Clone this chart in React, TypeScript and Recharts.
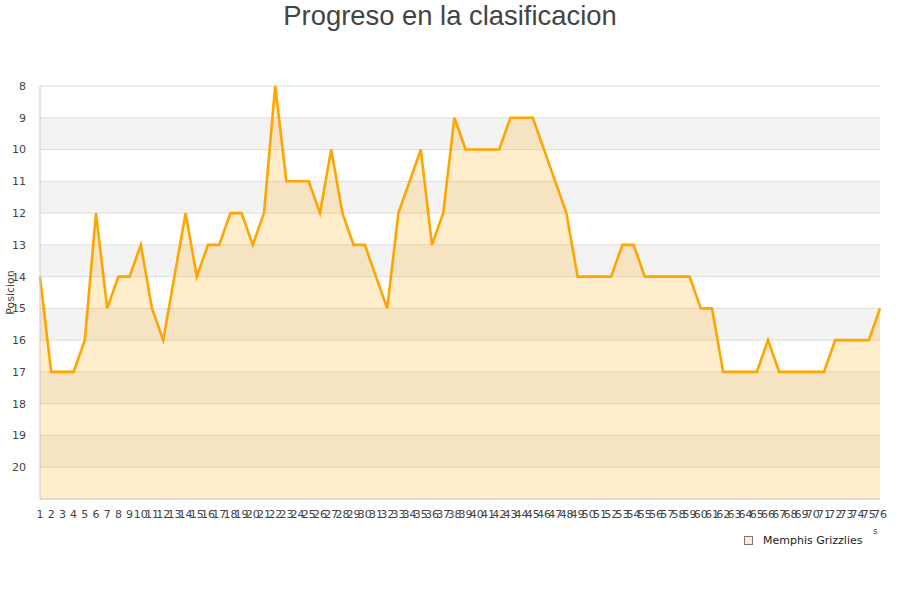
import { AreaChart, Area, XAxis, YAxis, CartesianGrid } from 'recharts'

// jornadas 1..76
const jornadas = Array.from({ length: 76 }, (_, i) => String(i + 1))

// posicion en la clasificacion por jornada
const posiciones = [
  14, 17, 17, 17, 16, 12, 15, 14, 14, 13,
  15, 16, 14, 12, 14, 13, 13, 12, 12, 13,
  12, 8, 11, 11, 11, 12, 10, 12, 13, 13,
  14, 15, 12, 11, 10, 13, 12, 9, 10, 10,
  10, 10, 9, 9, 9, 10, 11, 12, 14, 14,
  14, 14, 13, 13, 14, 14, 14, 14, 14, 15,
  15, 17, 17, 17, 17, 16, 17, 17, 17, 17,
  17, 16, 16, 16, 16, 15,
]

const yTicks = [8, 9, 10, 11, 12, 13, 14, 15, 16, 17, 18, 19, 20, 21]

const seriesName = 'Memphis Grizzlies'
const title = 'Progreso en la clasificacion'

const data = jornadas.map((j, i) => ({ jornada: j, pos: posiciones[i] }))

const tickStyle = { fill: '#444', fontSize: 11, fontFamily: 'DejaVu Sans' }

export default function App() {
  return (
    <div style={{ position: 'absolute', left: 0, top: 0, width: 900, height: 600, background: '#fff' }}>
      <div
        style={{
          position: 'absolute',
          top: 2,
          left: 0,
          width: 900,
          textAlign: 'center',
          fontFamily: 'Liberation Sans, Arial, sans-serif',
          fontSize: 27.4,
          lineHeight: 1,
          color: '#444',
        }}
      >
        {title}
      </div>
      <AreaChart
        width={900}
        height={600}
        data={data}
        margin={{ top: 86, right: 20, left: 0, bottom: 71 }}
      >
        <CartesianGrid
          vertical={false}
          stroke="#dddddd"
          horizontalFill={['#ffffff', '#f3f3f3']}
          fillOpacity={1}
        />
        <XAxis
          dataKey="jornada"
          interval={0}
          tickLine={false}
          axisLine={{ stroke: '#cccccc' }}
          tick={tickStyle}
          tickMargin={5}
        />
        <YAxis
          reversed
          type="number"
          domain={[8, 21]}
          ticks={yTicks}
          interval={0}
          width={40}
          tickLine={false}
          axisLine={{ stroke: '#cccccc' }}
          tick={tickStyle}
          tickMargin={8}
          tickFormatter={(v: number) => (v === 21 ? '' : String(v))}
          label={{
            value: 'Posicion',
            angle: -90,
            position: 'insideLeft',
            offset: 10,
            style: { textAnchor: 'middle', fill: '#444', fontSize: 11, fontFamily: 'DejaVu Sans' },
          }}
        />
        <Area
          type="linear"
          dataKey="pos"
          name={seriesName}
          baseValue={21}
          stroke="#ffa500"
          strokeWidth={2.6}
          fill="#ffa500"
          fillOpacity={0.2}
          dot={false}
          activeDot={false}
          isAnimationActive={false}
        />
      </AreaChart>
      <div style={{ position: 'absolute', left: 873, top: 526, fontFamily: 'DejaVu Sans', fontSize: 9, color: '#444' }}>
        s
      </div>
      <div
        style={{
          position: 'absolute',
          left: 744,
          top: 534,
          display: 'flex',
          alignItems: 'center',
          fontFamily: 'DejaVu Sans',
          fontSize: 11,
          color: '#222',
        }}
      >
        <span
          style={{
            display: 'inline-block',
            width: 7,
            height: 7,
            background: '#ffedcc',
            border: '1px solid #777',
            marginRight: 10,
          }}
        />
        {seriesName}
      </div>
    </div>
  )
}
